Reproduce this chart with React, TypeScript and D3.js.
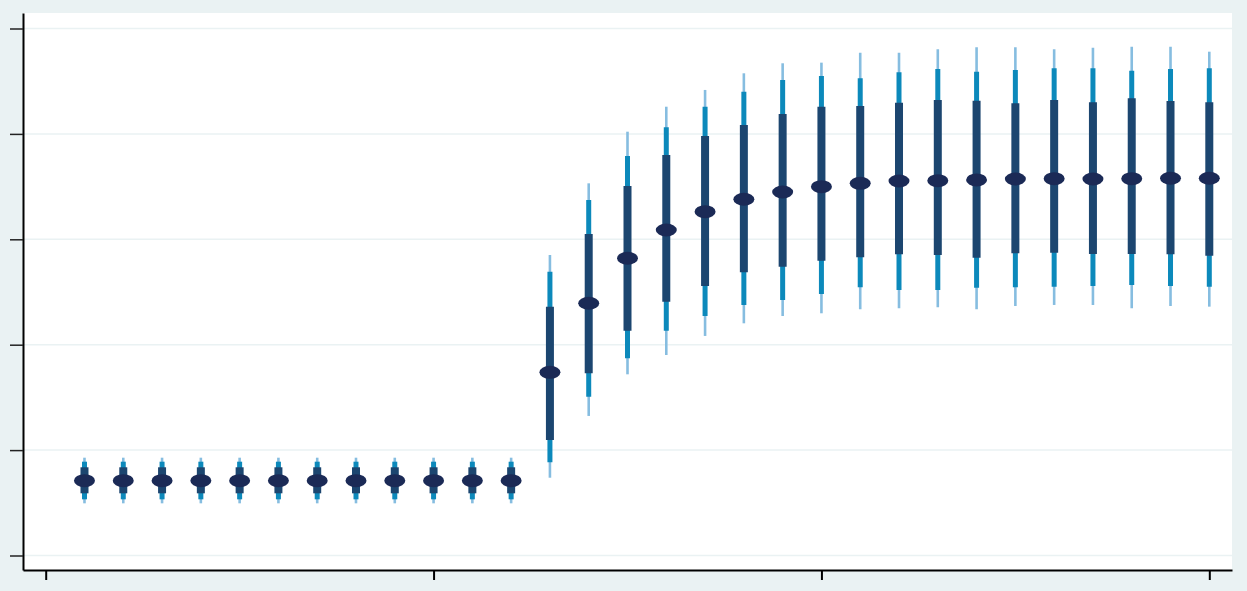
import React, { useEffect, useRef } from 'react';
import * as d3 from 'd3';

// period index for each estimate
const periods = d3.range(1, 31);

// point estimates
const estimates = [
  0.71, 0.71, 0.71, 0.71, 0.71, 0.71, 0.71, 0.71, 0.71, 0.71, 0.71, 0.71,
  1.738, 2.393, 2.82, 3.088, 3.262, 3.38, 3.449, 3.499, 3.531, 3.553, 3.556, 3.563,
  3.572, 3.575, 3.572, 3.575, 3.579, 3.579,
];

// inner (narrow) band
const innerLow = [
  0.59, 0.59, 0.59, 0.59, 0.59, 0.59, 0.59, 0.59, 0.59, 0.59, 0.59, 0.59,
  1.096, 1.729, 2.133, 2.408, 2.557, 2.687, 2.74, 2.797, 2.829, 2.858, 2.851, 2.825,
  2.867, 2.873, 2.861, 2.861, 2.858, 2.844,
];
const innerHigh = [
  0.837, 0.837, 0.837, 0.837, 0.837, 0.837, 0.837, 0.837, 0.837, 0.837, 0.837, 0.837,
  2.361, 3.05, 3.506, 3.8, 3.98, 4.084, 4.189, 4.258, 4.265, 4.296, 4.322, 4.315,
  4.29, 4.322, 4.3, 4.338, 4.312, 4.3,
];

// middle band
const midLow = [
  0.533, 0.533, 0.533, 0.533, 0.533, 0.533, 0.533, 0.533, 0.533, 0.533, 0.533, 0.533,
  0.884, 1.507, 1.871, 2.133, 2.272, 2.377, 2.424, 2.481, 2.545, 2.519, 2.519, 2.541,
  2.545, 2.55, 2.557, 2.566, 2.557, 2.55,
];
const midHigh = [
  0.89, 0.89, 0.89, 0.89, 0.89, 0.89, 0.89, 0.89, 0.89, 0.89, 0.89, 0.89,
  2.693, 3.373, 3.79, 4.063, 4.258, 4.4, 4.511, 4.549, 4.528, 4.584, 4.616, 4.59,
  4.606, 4.622, 4.622, 4.6, 4.616, 4.622,
];

// outer (wide) band
const outerLow = [
  0.495, 0.495, 0.495, 0.495, 0.495, 0.495, 0.495, 0.495, 0.495, 0.495, 0.495, 0.495,
  0.738, 1.324, 1.719, 1.902, 2.083, 2.203, 2.272, 2.298, 2.336, 2.345, 2.355, 2.336,
  2.367, 2.377, 2.377, 2.345, 2.367, 2.361,
];
const outerHigh = [
  0.928, 0.928, 0.928, 0.928, 0.928, 0.928, 0.928, 0.928, 0.928, 0.928, 0.928, 0.928,
  2.851, 3.531, 4.021, 4.258, 4.417, 4.575, 4.67, 4.676, 4.77, 4.77, 4.803, 4.822,
  4.822, 4.803, 4.818, 4.827, 4.827, 4.78,
];

const yTicks = [0, 1, 2, 3, 4, 5];
const xTicks = [0, 10, 20, 30];

function App() {
  const chartRef = useRef<SVGSVGElement>(null);

  useEffect(() => {
    document.body.style.margin = '0';

    const width = 1247;
    const height = 591;
    const plot = { left: 23, right: 1232, top: 13, bottom: 570 };

    const svg = d3.select(chartRef.current);
    svg.selectAll('*').remove();

    svg.attr('width', width).attr('height', height);

    // background
    svg.append('rect')
      .attr('width', width)
      .attr('height', height)
      .attr('fill', '#eaf2f3');

    svg.append('rect')
      .attr('x', plot.left)
      .attr('y', plot.top)
      .attr('width', plot.right - plot.left)
      .attr('height', plot.bottom - plot.top)
      .attr('fill', 'white');

    const x = d3.scaleLinear().domain([0, 30]).range([45.7, 1209.3]);
    const yBase = d3.scaleLinear().domain([0, 5]).range([555.5, 28.5]);
    const y = d3.scaleLinear()
      .domain([yBase.invert(plot.bottom), yBase.invert(plot.top)])
      .range([plot.bottom, plot.top]);
    const xFull = d3.scaleLinear()
      .domain([x.invert(plot.left), x.invert(plot.right)])
      .range([plot.left, plot.right]);

    // gridlines
    svg.append('g')
      .selectAll('line')
      .data(yTicks)
      .join('line')
      .attr('x1', plot.left)
      .attr('x2', plot.right)
      .attr('y1', (d) => y(d))
      .attr('y2', (d) => y(d))
      .attr('stroke', '#eaf2f3')
      .attr('stroke-width', 1.5);

    const pts = periods.map((p, i) => ({
      p,
      est: estimates[i],
      bands: [
        [outerLow[i], outerHigh[i]],
        [midLow[i], midHigh[i]],
        [innerLow[i], innerHigh[i]],
      ],
    }));

    const bandStyle = [
      { color: '#86bde0', w: 2.6 },
      { color: '#0c89bb', w: 5 },
      { color: '#1c4670', w: 8 },
    ];

    bandStyle.forEach((s, k) => {
      svg.append('g')
        .selectAll('line')
        .data(pts)
        .join('line')
        .attr('x1', (d) => x(d.p))
        .attr('x2', (d) => x(d.p))
        .attr('y1', (d) => y(d.bands[k][0]))
        .attr('y2', (d) => y(d.bands[k][1]))
        .attr('stroke', s.color)
        .attr('stroke-width', s.w);
    });

    // point markers
    svg.append('g')
      .selectAll('ellipse')
      .data(pts)
      .join('ellipse')
      .attr('cx', (d) => x(d.p))
      .attr('cy', (d) => y(d.est))
      .attr('rx', 10.5)
      .attr('ry', 6.5)
      .attr('fill', '#1b2a56');

    // y axis
    const yAxis = svg.append('g')
      .attr('transform', 'translate(' + plot.left + ',0)')
      .call(d3.axisLeft(y).tickValues(yTicks).tickFormat(() => '').tickSize(13).tickSizeOuter(0));
    yAxis.select('.domain').attr('stroke', '#000').attr('stroke-width', 2);
    yAxis.selectAll('.tick line').attr('stroke', '#222').attr('stroke-width', 1.5);

    // x axis
    const xAxis = svg.append('g')
      .attr('transform', 'translate(0,' + plot.bottom + ')')
      .call(d3.axisBottom(xFull).tickValues(xTicks).tickFormat(() => '').tickSize(10).tickSizeOuter(0));
    xAxis.select('.domain').attr('stroke', '#000').attr('stroke-width', 2);
    xAxis.selectAll('.tick line').attr('stroke', '#000').attr('stroke-width', 2);
  }, []);

  return (
    <div id='d3-coef-chart'>
      <svg ref={chartRef} style={{ display: 'block' }}></svg>
    </div>
  );
}

export default App;
